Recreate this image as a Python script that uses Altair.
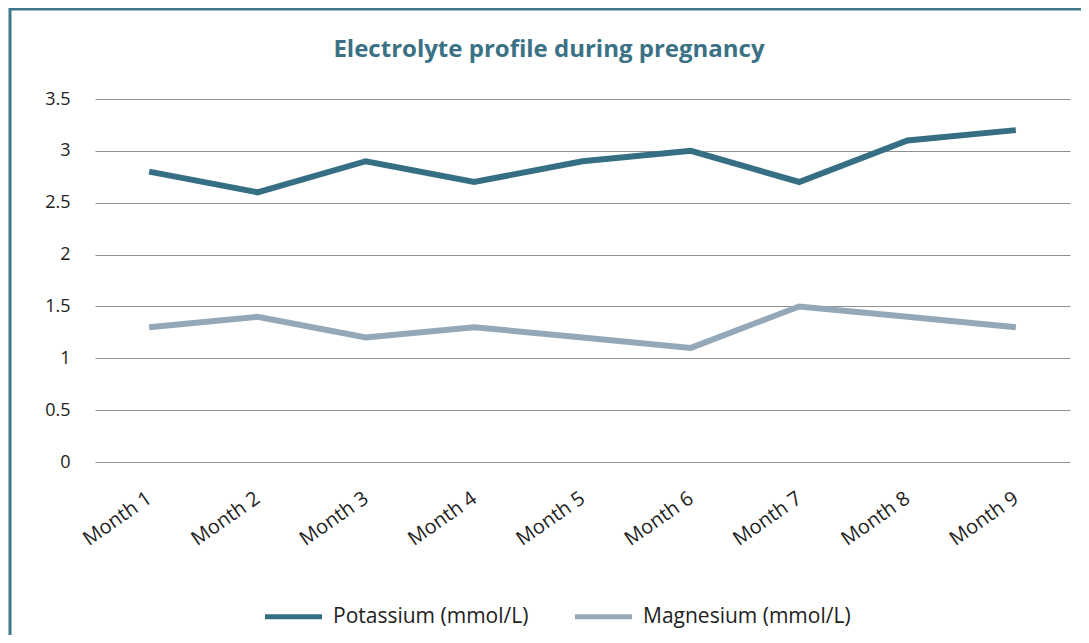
import altair as alt
import pandas as pd

months = ["Month 1", "Month 2", "Month 3", "Month 4", "Month 5",
          "Month 6", "Month 7", "Month 8", "Month 9"]
potassium = [2.8, 2.6, 2.9, 2.7, 2.9, 3.0, 2.7, 3.1, 3.2]
magnesium = [1.3, 1.4, 1.2, 1.3, 1.2, 1.1, 1.5, 1.4, 1.3]
series_names = ["Potassium (mmol/L)", "Magnesium (mmol/L)"]
series_colors = ["#366f84", "#95a8b7"]
title_text = "Electrolyte profile during pregnancy"

rows = []
for m, k, g in zip(months, potassium, magnesium):
    rows.append({"month": m, "series": series_names[0], "value": k})
    rows.append({"month": m, "series": series_names[1], "value": g})
df = pd.DataFrame(rows)

FONT = "Open Sans"

lines = alt.Chart(df).mark_line(strokeWidth=6, strokeJoin="miter").encode(
    x=alt.X("month:N", sort=months, title=None,
            axis=alt.Axis(labelAngle=-35, labelAlign="right", labelBaseline="middle",
                          labelPadding=34, ticks=False, domain=False, grid=False,
                          labelFont=FONT, labelFontSize=20, labelColor="#222222")),
    y=alt.Y("value:Q", title=None,
            scale=alt.Scale(domain=[0, 3.5], nice=False),
            axis=alt.Axis(values=[0, 0.5, 1, 1.5, 2, 2.5, 3, 3.5], format="~g",
                          ticks=False, domain=False, labelPadding=25,
                          gridColor="#8f8f8f", gridWidth=1.2,
                          labelFont=FONT, labelFontSize=18, labelColor="#222222")),
    color=alt.Color("series:N", sort=series_names,
                    scale=alt.Scale(domain=series_names, range=series_colors),
                    legend=alt.Legend(title=None, orient="none", direction="horizontal",
                                      legendX=167, legendY=486,
                                      symbolType="stroke", symbolSize=3250,
                                      symbolStrokeWidth=5, columnPadding=35,
                                      labelLimit=400,
                                      labelFont=FONT, labelFontSize=21,
                                      labelColor="#222222", labelOffset=8)),
)

frame = alt.Data(values=[{}])
title_mark = alt.Chart(frame).mark_text(
    text=title_text, font=FONT, fontSize=24, fontWeight="bold", color="#3a7185",
    align="center", baseline="alphabetic").encode(
    x=alt.value(454), y=alt.value(-42))
left_border = alt.Chart(frame).mark_rule(color="#3f768a", strokeWidth=3, clip=False).encode(
    x=alt.value(-85), y=alt.value(-91), y2=alt.value(700))
top_border = alt.Chart(frame).mark_rule(color="#3f768a", strokeWidth=3, clip=False).encode(
    x=alt.value(-86), x2=alt.value(1100), y=alt.value(-90))

chart = alt.layer(lines, title_mark, left_border, top_border).properties(
    width=975, height=363,
    autosize=alt.AutoSizeParams(type="none"),
    padding={"left": 87, "top": 91, "right": 11, "bottom": 173},
).configure_view(stroke=None)

chart.save("out.html", embed_options={"renderer": "svg", "actions": False})
